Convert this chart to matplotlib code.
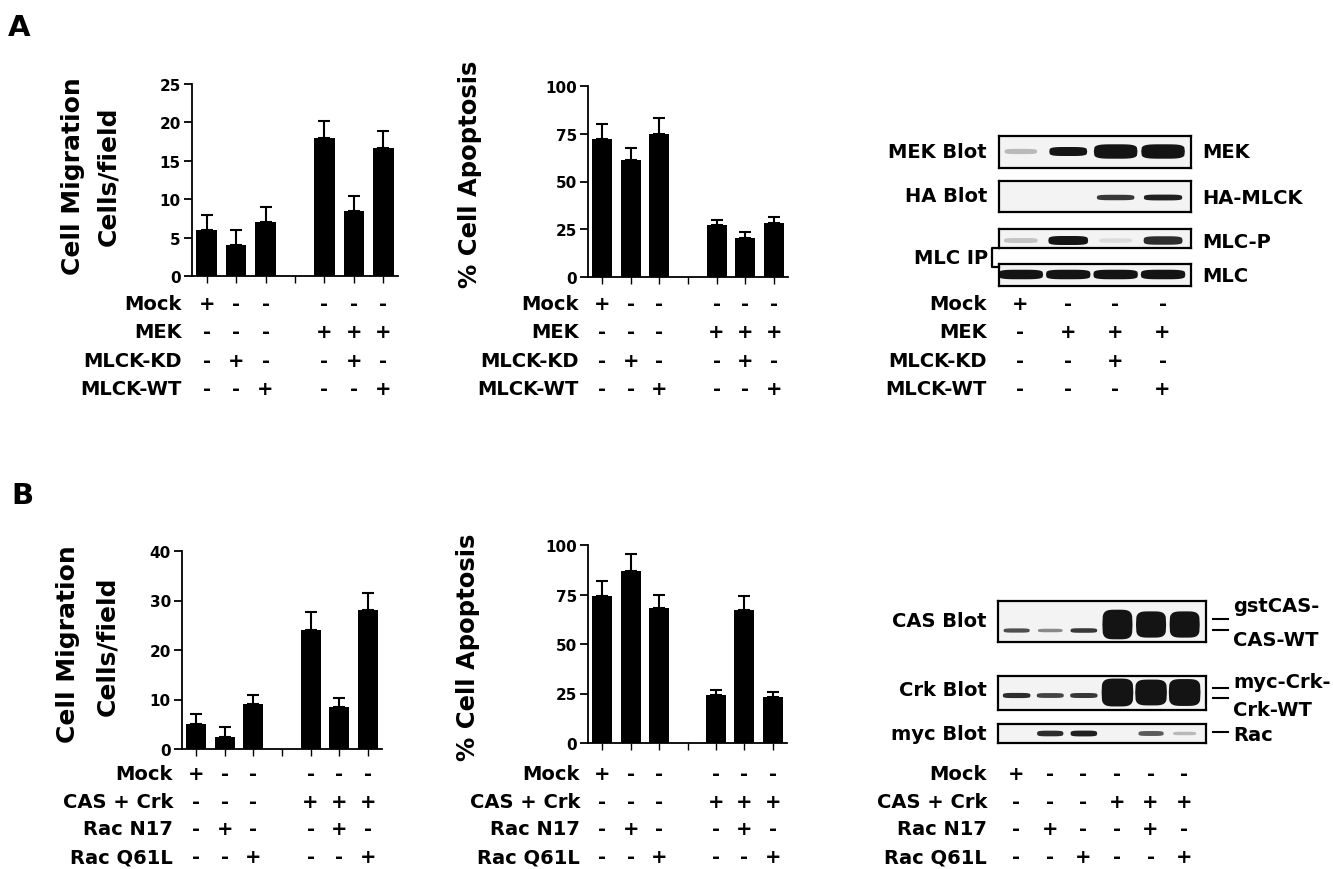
import numpy as np
import matplotlib
matplotlib.use('Agg')
import matplotlib.pyplot as plt
from matplotlib.lines import Line2D
from matplotlib.transforms import blended_transform_factory

W, H = 1333, 870

# bar chart data (mean, upper error)
bar_pos = [0, 1, 2, 4, 5, 6]
a_mig = [6.0, 4.0, 7.0, 18.0, 8.5, 16.7]
a_mig_err = [2.0, 2.0, 2.0, 2.2, 1.9, 2.2]
a_apo = [72, 61, 75, 27, 20.5, 28.5]
a_apo_err = [8, 6.5, 8.5, 3, 3, 3]
b_mig = [5.0, 2.5, 9.0, 24.0, 8.5, 28.0]
b_mig_err = [2.0, 1.9, 1.9, 3.6, 1.9, 3.5]
b_apo = [74, 87, 68, 24, 67, 23]
b_apo_err = [8, 8.5, 7, 3, 7, 3]

# treatment tables
a_rows = ['Mock', 'MEK', 'MLCK-KD', 'MLCK-WT']
a_bar_signs = ['+-----', '---+++', '-+--+-', '--+--+']
a_blot_signs = ['+---', '-+++', '--+-', '---+']
b_rows = ['Mock', 'CAS + Crk', 'Rac N17', 'Rac Q61L']
b_bar_signs = ['+-----', '---+++', '-+--+-', '--+--+']
b_blot_signs = ['+-----', '---+++', '-+--+-', '--+--+']

# blot band signal (arbitrary units, >1 = saturated)
mek_band = [0.3, 1.0, 2.0, 2.0]
ha_band = [0, 0, 0.85, 0.95]
mlcp_band = [0.25, 1.0, 0.15, 0.9]
mlc_band = [1.0, 1.0, 1.0, 1.0]
cas_wt_band = [0.75, 0.5, 0.85, 1, 1, 1]
gst_cas_band = [0, 0, 0, 5.5, 4.8, 4.8]
crk_wt_band = [0.9, 0.8, 0.85, 1, 1, 1]
myc_crk_band = [0, 0, 0, 4.8, 4.4, 4.6]
rac_band = [0, 0.9, 0.95, 0, 0.7, 0.3]

plt.rcParams['font.family'] = 'DejaVu Sans'
plt.rcParams['font.weight'] = 'bold'

fig = plt.figure(figsize=(W / 100, H / 100), dpi=100)
fig.patch.set_facecolor('white')


def fy(y):
    return 1 - y / H


def ax_px(x0, y0, x1, y1):
    return fig.add_axes([x0 / W, 1 - y1 / H, (x1 - x0) / W, (y1 - y0) / H])


def txt(x, y, s, **kw):
    kw.setdefault('fontweight', 'bold')
    fig.text(x / W, fy(y), s, **kw)


def line_px(xs, ys, lw=1.5):
    fig.add_artist(Line2D([x / W for x in xs], [fy(y) for y in ys],
                          color='black', lw=lw))


def sign_table(ax, signs, positions, rows_y, names, label_x):
    trans = blended_transform_factory(ax.transData, fig.transFigure)
    for name, row, y in zip(names, signs, rows_y):
        txt(label_x, y, name, ha='right', va='center', fontsize=14)
        for p, s in zip(positions, row):
            ax.text(p, fy(y), s, transform=trans, ha='center', va='center',
                    fontsize=14, fontweight='bold', clip_on=False)


def bar_chart(x0, x1, ytop, yzero, ymax, step, vals, errs):
    ax = ax_px(x0, ytop, x1, yzero)
    ax.bar(bar_pos, vals, width=0.7, color='black', zorder=2)
    ax.errorbar(bar_pos, vals, yerr=[np.zeros(len(vals)), errs], fmt='none',
                ecolor='black', elinewidth=1.5, capsize=4, capthick=1.5,
                clip_on=False, zorder=1)
    ax.set_xlim(-0.5, 6.5)
    ax.set_ylim(0, ymax)
    ax.set_yticks(np.arange(0, ymax + step / 2, step))
    ax.set_xticks(range(7))
    ax.set_xticklabels([])
    for s in ['top', 'right']:
        ax.spines[s].set_visible(False)
    for s in ['left', 'bottom']:
        ax.spines[s].set_linewidth(1.3)
    ax.tick_params(axis='y', length=6, width=1.3, labelsize=11, pad=2)
    ax.tick_params(axis='x', length=5, width=1.0)
    for lab in ax.get_yticklabels():
        lab.set_fontweight('bold')
    ax.set_facecolor('none')
    return ax


def band(ax, lane, yc, s, base, wbase):
    if s <= 0:
        return
    dark = min(s, 1.0)
    thick = base * (0.4 + 0.6 * s)
    width = wbase * min(1.15, 0.8 + 0.2 * s)
    u = np.linspace(-1, 1, 80)
    prof = (1 - np.abs(u) ** 4) ** 0.25
    ax.fill_between(lane + u * width / 2, yc - thick / 2 * prof,
                    yc + thick / 2 * prof, color=str(1 - 0.92 * dark), lw=0)


def blot_box(x0, y0, x1, y1, xlim):
    ax = ax_px(x0, y0, x1, y1)
    ax.set_xlim(*xlim)
    ax.set_ylim(y1, y0)
    ax.set_xticks([])
    ax.set_yticks([])
    ax.set_facecolor('#f3f3f3')
    for s in ax.spines.values():
        s.set_linewidth(1.6)
    return ax


# ---------------- Panel A ----------------
txt(19, 28, 'A', fontsize=21, ha='center', va='center')

ax = bar_chart(192, 398, 85, 277, 25, 5, a_mig, a_mig_err)
txt(73, 176, 'Cell Migration', rotation=90, fontsize=18, ha='center', va='center')
txt(108, 176, 'Cells/field', rotation=90, fontsize=18, ha='center', va='center')
sign_table(ax, a_bar_signs, bar_pos, [305, 333, 362, 390], a_rows, 182)

ax = bar_chart(588, 788, 87, 278, 100, 25, a_apo, a_apo_err)
txt(470, 174, '% Cell Apoptosis', rotation=90, fontsize=17.5, ha='center', va='center')
sign_table(ax, a_bar_signs, bar_pos, [305, 333, 362, 390], a_rows, 579)

a_lanes = [1, 2, 3, 4]
a_xlim = (0.55, 4.6)
bx = blot_box(999, 137, 1191, 169, a_xlim)
for l, s in zip(a_lanes, mek_band):
    band(bx, l, 152, s, 9, 0.8)
bx = blot_box(999, 182, 1191, 213, a_xlim)
for l, s in zip(a_lanes, ha_band):
    band(bx, l, 198, s, 6, 0.82)
bx = blot_box(999, 230, 1191, 249, a_xlim)
for l, s in zip(a_lanes, mlcp_band):
    band(bx, l, 241, s, 9, 0.84)
bx = blot_box(999, 265, 1191, 287, a_xlim)
for l, s in zip(a_lanes, mlc_band):
    band(bx, l, 275, s, 9.5, 0.94)

txt(987, 153, 'MEK Blot', fontsize=14, ha='right', va='center')
txt(987, 197, 'HA Blot', fontsize=14, ha='right', va='center')
txt(988, 259, 'MLC IP', fontsize=14, ha='right', va='center')
line_px([999, 992, 992, 999], [249, 249, 268, 268], lw=1.6)
txt(1202, 153, 'MEK', fontsize=14, ha='left', va='center')
txt(1202, 198, 'HA-MLCK', fontsize=14, ha='left', va='center')
txt(1202, 242, 'MLC-P', fontsize=14, ha='left', va='center')
txt(1202, 277, 'MLC', fontsize=14, ha='left', va='center')
sign_table(bx, a_blot_signs, a_lanes, [305, 333, 362, 390], a_rows, 987)

# ---------------- Panel B ----------------
txt(22, 496, 'B', fontsize=21, ha='center', va='center')

ax = bar_chart(182, 382, 552, 750, 40, 10, b_mig, b_mig_err)
txt(68, 644, 'Cell Migration', rotation=90, fontsize=18, ha='center', va='center')
txt(107, 646, 'Cells/field', rotation=90, fontsize=18, ha='center', va='center')
sign_table(ax, b_bar_signs, bar_pos, [775, 803, 830, 858], b_rows, 173)

ax = bar_chart(588, 787, 546, 744, 100, 25, b_apo, b_apo_err)
txt(468, 647, '% Cell Apoptosis', rotation=90, fontsize=17.5, ha='center', va='center')
sign_table(ax, b_bar_signs, bar_pos, [775, 803, 830, 858], b_rows, 580)

b_lanes = [1, 2, 3, 4, 5, 6]
b_xlim = (0.46, 6.65)
bx = blot_box(998, 602, 1206, 643, b_xlim)
for l, s in zip(b_lanes, gst_cas_band):
    band(bx, l, 625, s, 8, 0.78)
for l, s in zip(b_lanes, cas_wt_band):
    band(bx, l, 631, s, 5, 0.82)
bx = blot_box(998, 677, 1206, 711, b_xlim)
for l, s in zip(b_lanes, myc_crk_band):
    band(bx, l, 693, s, 8.5, 0.82)
for l, s in zip(b_lanes, crk_wt_band):
    band(bx, l, 696, s, 5.5, 0.84)
bx = blot_box(998, 725, 1206, 744, b_xlim)
for l, s in zip(b_lanes, rac_band):
    band(bx, l, 734, s, 6, 0.8)

txt(987, 622, 'CAS Blot', fontsize=14, ha='right', va='center')
txt(987, 690, 'Crk Blot', fontsize=14, ha='right', va='center')
txt(987, 735, 'myc Blot', fontsize=14, ha='right', va='center')
for y in [620, 631, 689, 699, 733]:
    line_px([1213, 1228], [y, y], lw=1.5)
txt(1233, 607, 'gstCAS-', fontsize=14, ha='left', va='center')
txt(1233, 641, 'CAS-WT', fontsize=14, ha='left', va='center')
txt(1233, 683, 'myc-Crk-', fontsize=14, ha='left', va='center')
txt(1233, 711, 'Crk-WT', fontsize=14, ha='left', va='center')
txt(1233, 736, 'Rac', fontsize=14, ha='left', va='center')
sign_table(bx, b_blot_signs, b_lanes, [775, 803, 830, 858], b_rows, 987)

fig.savefig('out.png', dpi=100, facecolor='white')
